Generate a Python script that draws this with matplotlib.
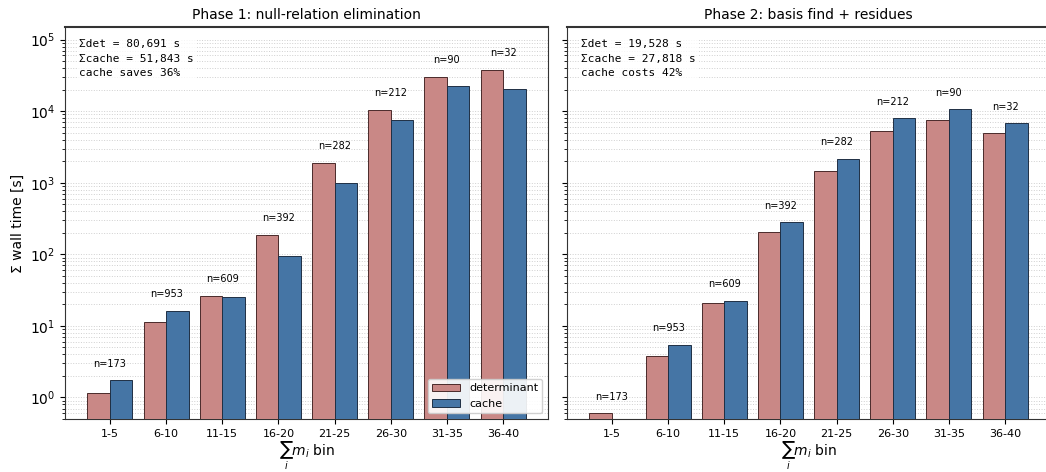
import numpy as np
import matplotlib.pyplot as plt

BINS = ["1-5", "6-10", "11-15", "16-20", "21-25", "26-30", "31-35", "36-40"]
COUNTS = [173, 953, 609, 392, 282, 212, 90, 32]

# phase 1: null-relation elimination (seconds, summed per bin)
P1_DET = [1.15, 11.5, 26.3, 187, 1900, 10400, 30100, 37800]
P1_CACHE = [1.73, 16.3, 25.7, 96, 1000, 7640, 22800, 20300]

# phase 2: basis find + residues
P2_DET = [0.6, 3.74, 21, 206, 1480, 5310, 7550, 5020]
P2_CACHE = [0.4, 5.45, 22.6, 282, 2180, 7980, 10670, 6790]

P1_TEXT = ["\u03a3det = 80,691 s", "\u03a3cache = 51,843 s", "cache saves 36%"]
P2_TEXT = ["\u03a3det = 19,528 s", "\u03a3cache = 27,818 s", "cache costs 42%"]

DET_COLOR = "#c98886"
CACHE_COLOR = "#4575a5"

fig = plt.figure(figsize=(10.46, 4.72), dpi=100)
ax1 = fig.add_axes([65 / 1046, 53 / 472, 483 / 1046, 392 / 472])
ax2 = fig.add_axes([567 / 1046, 53 / 472, 483 / 1046, 392 / 472], sharey=ax1)

x = np.arange(len(BINS))
w = 0.4


def draw(ax, det, cache, title, lines, legend=False):
    ax.bar(x - w / 2, det, w, color=DET_COLOR, edgecolor="#4a2a2a",
           linewidth=0.7, label="determinant", zorder=3)
    ax.bar(x + w / 2, cache, w, color=CACHE_COLOR, edgecolor="#1f2f44",
           linewidth=0.7, label="cache", zorder=3)
    for i, n in enumerate(COUNTS):
        top = max(det[i], cache[i])
        ax.text(x[i], top * 1.45, f"n={n}", ha="center", va="bottom",
                fontsize=7, zorder=4)
    ax.set_yscale("log")
    ax.set_ylim(0.5, 1.5e5)
    ax.set_xlim(-0.8, 7.8)
    ax.set_xticks(x)
    ax.set_xticklabels(BINS, fontsize=8)
    ax.grid(True, axis="y", which="both", linestyle=":", color="#d0d0d0",
            linewidth=0.7, zorder=0)
    ax.set_title(title, fontsize=10)
    ax.set_xlabel(r"$\sum_i m_i$ bin", fontsize=10, labelpad=1)
    ax.text(0.03, 0.97, "\n".join(lines), transform=ax.transAxes,
            ha="left", va="top", fontsize=8, family="DejaVu Sans Mono",
            linespacing=1.6, zorder=5,
            bbox=dict(facecolor="white", edgecolor="none", alpha=0.8, pad=2))
    for s in ax.spines.values():
        s.set_color("#333333")
    ax.spines["top"].set_linewidth(1.5)
    if legend:
        ax.legend(loc="lower right", fontsize=8, framealpha=0.9,
                  borderpad=0.4, handlelength=2.5)


draw(ax1, P1_DET, P1_CACHE, "Phase 1: null-relation elimination", P1_TEXT, legend=True)
draw(ax2, P2_DET, P2_CACHE, "Phase 2: basis find + residues", P2_TEXT)

ax1.set_ylabel("\u03a3 wall time [s]", fontsize=10)
ax1.tick_params(axis="y", labelsize=10)
plt.setp(ax2.get_yticklabels(), visible=False)

fig.savefig("out.png", dpi=100)
